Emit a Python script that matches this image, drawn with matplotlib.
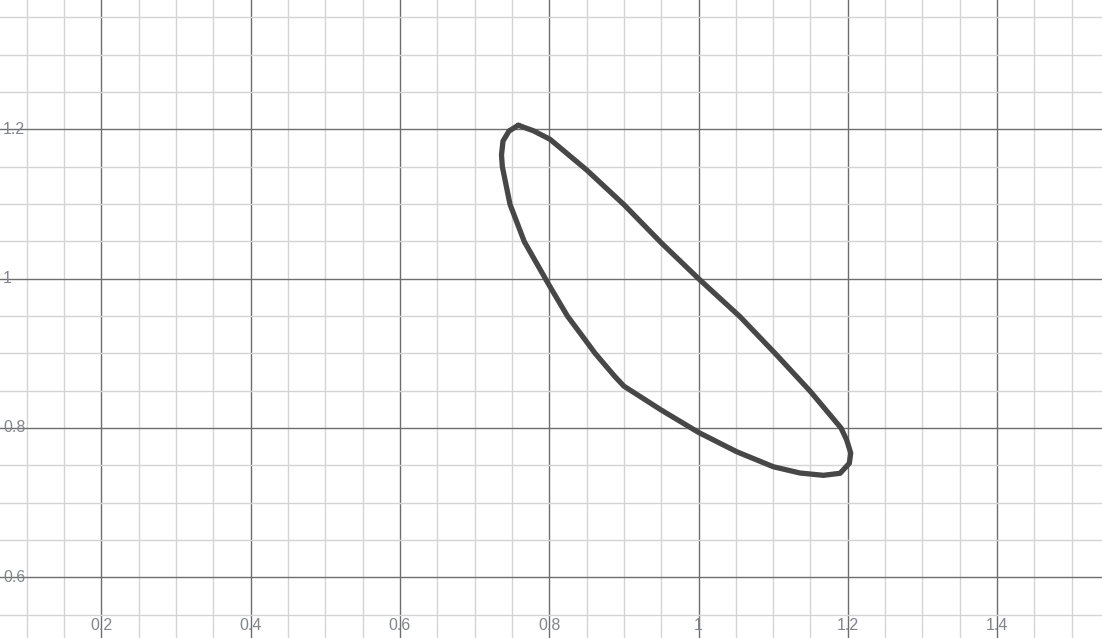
import matplotlib
matplotlib.use('Agg')
import matplotlib.pyplot as plt
import matplotlib.transforms as mtransforms
import numpy as np

# Closed curve (clockwise from the top)
curve_x = [0.7586, 0.7787, 0.8011, 0.8502, 0.9006, 0.9507, 1.0000, 1.0556,
           1.1025, 1.1494, 1.1909, 1.1985, 1.2039, 1.2020, 1.1896, 1.1672,
           1.1360, 1.1002, 1.0512, 1.0000, 0.9500, 0.9000, 0.8882, 0.8614,
           0.8500, 0.8243, 0.8000, 0.7667, 0.7475, 0.7372, 0.7361, 0.7381,
           0.7462]
curve_y = [1.2054, 1.1981, 1.1866, 1.1455, 1.0986, 1.0473, 1.0000, 0.9490,
           0.9000, 0.8494, 0.7999, 0.7838, 0.7664, 0.7526, 0.7392, 0.7365,
           0.7396, 0.7480, 0.7681, 0.7940, 0.8240, 0.8560, 0.8686, 0.9000,
           0.9155, 0.9500, 0.9910, 1.0494, 1.0995, 1.1500, 1.1656, 1.1843,
           1.1977]

# Axis tick labels
x_ticks = [0.2, 0.4, 0.6, 0.8, 1.0, 1.2, 1.4]
x_tick_labels = ['0.2', '0.4', '0.6', '0.8', '1', '1.2', '1.4']
y_ticks = [0.6, 0.8, 1.0, 1.2]
y_tick_labels = ['0.6', '0.8', '1', '1.2']

plt.rcParams['font.family'] = ['Liberation Sans', 'DejaVu Sans']

fig = plt.figure(figsize=(11.02, 6.38), dpi=100)
ax = fig.add_axes([0, 0, 1, 1])

# Grid: major every 0.2, minor every 0.05
ax.set_xticks(np.arange(0.0, 1.61, 0.2))
ax.set_yticks(np.arange(0.4, 1.41, 0.2))
ax.set_xticks(np.arange(0.0, 1.61, 0.05), minor=True)
ax.set_yticks(np.arange(0.4, 1.41, 0.05), minor=True)
ax.grid(which='minor', color='#d4d4d4', linewidth=1.0)
ax.grid(which='major', color='#6e6e6e', linewidth=1.0)
ax.set_axisbelow(True)
ax.tick_params(which='both', length=0, labelbottom=False, labelleft=False)
for s in ax.spines.values():
    s.set_visible(False)

# limits after the ticks, otherwise set_xticks widens them
ax.set_xlim(0.0643, 1.5405)
ax.set_ylim(0.5186, 1.3732)

# Curve
ax.plot(curve_x + curve_x[:1], curve_y + curve_y[:1], color='#474747',
        linewidth=3.8, solid_joinstyle='round', solid_capstyle='round', zorder=3)

# Labels sitting at the screen edges, like a graphing calculator
xtrans = mtransforms.blended_transform_factory(ax.transData, ax.transAxes)
for v, lab in zip(x_ticks, x_tick_labels):
    ax.text(v, 12 / 638, lab, transform=xtrans, ha='center', va='center',
            fontsize=11.5, color='#80868d', zorder=4)

ytrans = mtransforms.blended_transform_factory(ax.transAxes, ax.transData)
for v, lab in zip(y_ticks, y_tick_labels):
    ax.text(3 / 1102, v, lab, transform=ytrans, ha='left', va='center',
            fontsize=11.5, color='#80868d', zorder=4)

fig.savefig('out.png', dpi=100)
